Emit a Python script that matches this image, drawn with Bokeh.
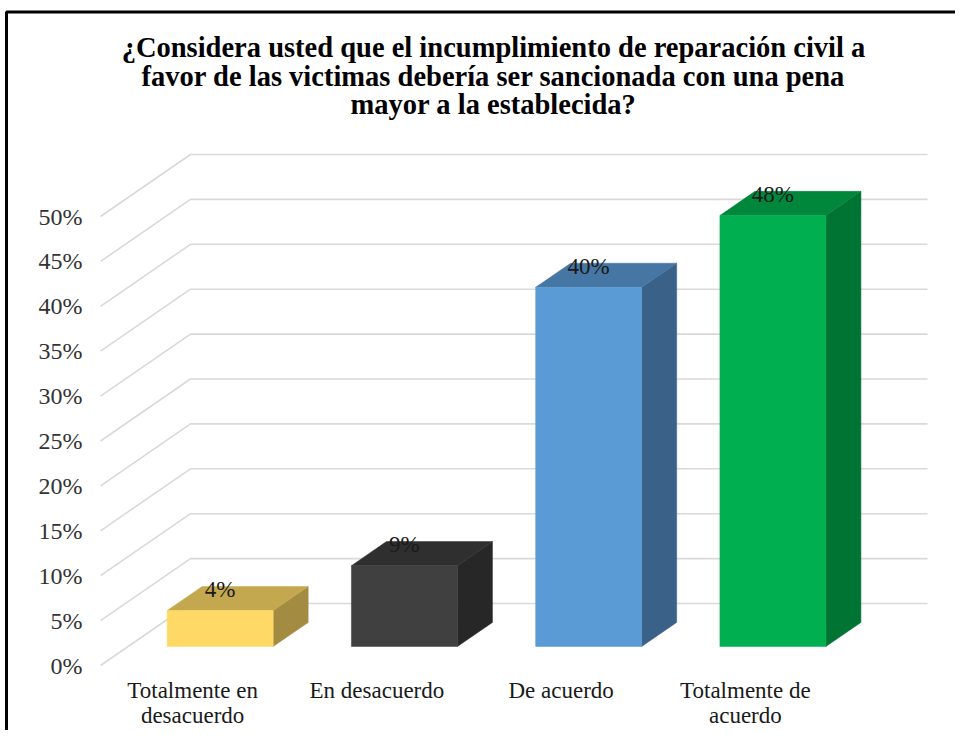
from bokeh.plotting import figure
from bokeh.models import Range1d
from bokeh.embed import file_html
from bokeh.resources import INLINE
from bokeh.core.properties import value

# ---------------- data ----------------
title_lines = [
    "¿Considera usted que el incumplimiento de reparación civil a",
    "favor de las victimas debería ser sancionada con una pena",
    "mayor a la establecida?",
]
categories = ["Totalmente en\ndesacuerdo", "En desacuerdo", "De acuerdo", "Totalmente de\nacuerdo"]
values = [4, 9, 40, 48]
value_labels = ["4%", "9%", "40%", "48%"]
tick_values = [0, 5, 10, 15, 20, 25, 30, 35, 40, 45, 50]
tick_labels = ["0%", "5%", "10%", "15%", "20%", "25%", "30%", "35%", "40%", "45%", "50%"]
front_colors = ["#FFD966", "#404040", "#5B9BD5", "#00B050"]
top_colors = ["#C4A84F", "#2F2F2F", "#4676A3", "#00873C"]
side_colors = ["#A48B42", "#272727", "#3A6187", "#007433"]

# ---------------- layout constants ----------------
W, H = 955, 730
PX_X = 184.25      # pixels per category
PX_Y = 8.98        # pixels per percent
X0_PX = 100        # front-left floor corner, px from left
Y0_PX = 665        # 0% front line, px from top
DX = 90 / PX_X     # depth offset (category units)
DY = 62 / PX_Y     # depth offset (percent units)
BF, BB = 0.306, 0.695   # bar front/back depth fraction
BW = 106 / PX_X         # bar width
N = len(categories)

FONT = value("Liberation Serif")

p = figure(width=W, height=H, output_backend="svg", toolbar_location=None,
           x_range=Range1d(-X0_PX / PX_X, (W - X0_PX) / PX_X),
           y_range=Range1d(-(H - Y0_PX) / PX_Y, Y0_PX / PX_Y),
           min_border=0, outline_line_color=None)
p.axis.visible = False
p.grid.visible = False
p.background_fill_color = "white"
p.border_fill_color = "white"

# frame border (top and left)
bx = (6 - X0_PX) / PX_X
by = (Y0_PX - 11.5) / PX_Y
p.line([bx, bx, p.x_range.end], [p.y_range.start, by, by], line_color="black", line_width=3)

# gridlines: side wall diagonals + back wall horizontals
gx = [[0, DX, N + DX] for t in tick_values]
gy = [[t, t + DY, t + DY] for t in tick_values]
p.multi_line(gx, gy, line_color="#D9D9D9", line_width=1.6)

# tick labels
p.text(x=[0] * len(tick_values), y=tick_values, text=tick_labels,
       x_offset=-18, text_align="right", text_baseline="middle",
       text_font=FONT, text_font_size="24px", text_color="#333333")

# bars (3D)
dd = BB - BF
fl, fr, fb, ft = [], [], [], []
txs, tys, sxs, sys_ = [], [], [], []
for i, v in enumerate(values):
    c = i + 0.5
    L = c - BW / 2 + BF * DX
    R = c + BW / 2 + BF * DX
    y0 = BF * DY
    fl.append(L); fr.append(R); fb.append(y0); ft.append(v + y0)
    txs.append([L, R, R + dd * DX, L + dd * DX])
    tys.append([v + y0, v + y0, v + BB * DY, v + BB * DY])
    sxs.append([R, R + dd * DX, R + dd * DX, R])
    sys_.append([y0, BB * DY, v + BB * DY, v + y0])

p.patches(sxs, sys_, fill_color=side_colors, line_color=side_colors, line_width=0.5)
p.patches(txs, tys, fill_color=top_colors, line_color=top_colors, line_width=0.5)
p.quad(left=fl, right=fr, bottom=fb, top=ft, fill_color=front_colors,
       line_color=front_colors, line_width=0.5)

# data labels
p.text(x=[i + 0.5 + BF * DX for i in range(N)], y=[v + BB * DY for v in values],
       text=value_labels, y_offset=3, text_align="center", text_baseline="middle",
       text_font=FONT, text_font_size="23px", text_color="#1a1a1a")

# category labels
p.text(x=[i + 0.5 for i in range(N)], y=[0] * N, text=categories,
       y_offset=12, text_align="center", text_baseline="top", text_line_height=1.0,
       text_font=FONT, text_font_size="23px", text_color="#1a1a1a")

# title
title_px_y = [47, 76, 104]
p.text(x=[(493 - X0_PX) / PX_X] * 3, y=[(Y0_PX - t) / PX_Y for t in title_px_y],
       text=title_lines, text_align="center", text_baseline="middle",
       text_font=FONT, text_font_size="28.5px", text_font_style="bold", text_color="black")

open("out.html", "w").write(file_html(p, INLINE))
